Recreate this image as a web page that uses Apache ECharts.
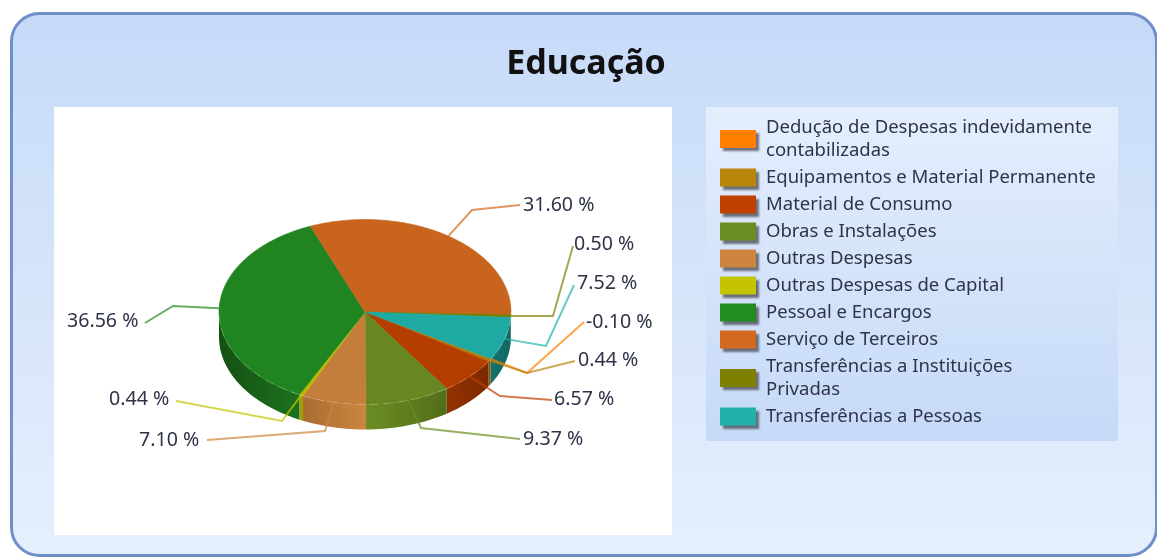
<!DOCTYPE html>
<html>
<head>
<meta charset="utf-8">
<title>Educação</title>
<script src="https://cdn.jsdelivr.net/npm/echarts@6/dist/echarts.min.js"></script>
<style>
  html, body { margin: 0; padding: 0; background: #fff; }
  #main { width: 1157px; height: 558px; }
</style>
</head>
<body>
<div id="main"></div>
<script>
// dados do grafico
const categories = [
    'Dedução de Despesas indevidamente\ncontabilizadas',
    'Equipamentos e Material Permanente',
    'Material de Consumo',
    'Obras e Instalações',
    'Outras Despesas',
    'Outras Despesas de Capital',
    'Pessoal e Encargos',
    'Serviço de Terceiros',
    'Transferências a Instituições\nPrivadas',
    'Transferências a Pessoas'
];
const percents = [-0.10, 0.44, 6.57, 9.37, 7.10, 0.44, 36.56, 31.60, 0.50, 7.52];
const colors = ['#ff8000', '#b8860b', '#c04000', '#6b8e23', '#cd853f', '#c4c400', '#228b22', '#d2691e', '#808000', '#20b2aa'];

// pizza "3D": elipse + parede frontal
const pie = { cx: 365, cy: 312, rx: 146, ry: 92.5, depth: 25, start: 30.4 };
// cotovelo e fim de cada linha guia, mesma ordem das categorias
const leaders = [
    { elbow: [527, 373], end: [584, 322], text: [586, 322] },
    { elbow: [527, 373], end: [575, 361], text: [578, 360] },
    { elbow: [500, 396], end: [552, 400], text: [554, 399] },
    { elbow: [421, 428], end: [520, 439], text: [523, 439] },
    { elbow: [325, 431], end: [207, 440], text: [139, 440] },
    { elbow: [282, 421], end: [176, 401], text: [109, 399] },
    { elbow: [173, 306], end: [145, 323], text: [67, 321] },
    { elbow: [472, 210], end: [520, 205], text: [523, 205] },
    { elbow: [553, 316], end: [573, 246], text: [574, 244] },
    { elbow: [546, 346], end: [574, 285], text: [577, 283] }
];
const textColor = '#2f3348';

const total = percents.reduce((s, v) => s + Math.abs(v), 0);
const ranges = [];
percents.reduce((a, v) => {
    const b = a + Math.abs(v) / total * 360;
    ranges.push([a, b]);
    return b;
}, pie.start);

function rim(deg, dy) {
    const t = deg * Math.PI / 180;
    return [pie.cx + pie.rx * Math.cos(t), pie.cy + pie.ry * Math.sin(t) + (dy || 0)];
}
function arc(a, b, dy) {
    const pts = [];
    const n = Math.max(2, Math.ceil(Math.abs(b - a)));
    for (let i = 0; i <= n; i++) pts.push(rim(a + (b - a) * i / n, dy));
    return pts;
}
function shade(hex, f) {
    const n = parseInt(hex.slice(1), 16);
    return 'rgb(' + [n >> 16, (n >> 8) & 255, n & 255].map(c => Math.round(c * f)).join(',') + ')';
}
// parte visivel da parede: angulos entre 0 e 180 (tambem depois de 360)
function frontRange(r) {
    const a = Math.max(r[0] % 360, 0), b = a + (r[1] - r[0]);
    if (a >= 180) return b > 360 ? [360, Math.min(b, 540)] : null;
    return [a, Math.min(b, 180)];
}

function renderSlice(i) {
    const r = ranges[i], c = colors[i];
    const children = [];
    const front = frontRange(r);
    if (front) {
        const top = arc(front[0], front[1], 0);
        const wall = top.concat(arc(front[1], front[0], pie.depth));
        const x0 = top[0][0], x1 = top[top.length - 1][0];
        const f = x => 1 - 0.42 * Math.abs(x - pie.cx) / pie.rx;
        children.push({
            type: 'polygon',
            shape: { points: wall },
            style: {
                fill: new echarts.graphic.LinearGradient(x0, 0, x1 === x0 ? x0 + 1 : x1, 0, [
                    { offset: 0, color: shade(c, f(x0)) },
                    { offset: 1, color: shade(c, f(x1)) }
                ], true)
            }
        });
    }
    children.push({
        type: 'polygon',
        shape: { points: [[pie.cx, pie.cy]].concat(arc(r[0], r[1], 0)) },
        style: { fill: shade(c, 0.95), stroke: shade(c, 0.95), lineWidth: 0.6 }
    });
    if (front) {
        children.push({
            type: 'polyline',
            shape: { points: arc(front[0], front[1], 0) },
            style: { fill: null, stroke: 'rgba(255,255,255,0.22)', lineWidth: 1, lineDash: [9, 5] }
        });
    }
    return { type: 'group', children: children };
}

function renderLeader(params) {
    const i = params.dataIndex, l = leaders[i];
    const r = ranges[i];
    return {
        type: 'group',
        children: [{
            type: 'polyline',
            shape: { points: [rim((r[0] + r[1]) / 2), l.elbow, l.end] },
            style: { fill: null, stroke: colors[i], opacity: 0.7, lineWidth: 2 }
        }, {
            type: 'text',
            style: {
                x: l.text[0],
                y: l.text[1],
                text: percents[i].toFixed(2) + ' %',
                fill: textColor,
                font: '19.6px "Noto Sans"',
                verticalAlign: 'middle'
            }
        }]
    };
}

const series = categories.map((name, i) => ({
    type: 'custom',
    name: name,
    coordinateSystem: 'none',
    silent: true,
    itemStyle: { color: colors[i] },
    data: [percents[i]],
    renderItem: () => renderSlice(i)
}));
series.push({
    type: 'custom',
    name: 'rotulos',
    coordinateSystem: 'none',
    silent: true,
    z: 5,
    data: percents,
    renderItem: renderLeader
});

const myChart = echarts.init(document.getElementById('main'));
myChart.setOption({
    animation: false,
    title: {
        text: 'Educação',
        left: 586,
        top: 42,
        textAlign: 'center',
        padding: 0,
        textStyle: { fontFamily: 'Noto Sans', fontSize: 34, fontWeight: 'bold', color: '#111', lineHeight: 44 }
    },
    graphic: [{
        type: 'rect',
        z: 0,
        shape: { x: 11.5, y: 13.5, width: 1145, height: 542, r: 28 },
        style: {
            fill: new echarts.graphic.LinearGradient(0, 0, 0, 1, [
                { offset: 0, color: '#c6daf8' },
                { offset: 1, color: '#e6effd' }
            ]),
            stroke: '#6f8fca',
            lineWidth: 3
        }
    }, {
        type: 'rect',
        z: 1,
        shape: { x: 54, y: 107, width: 618, height: 428 },
        style: { fill: '#fff' }
    }, {
        type: 'rect',
        z: 1,
        shape: { x: 706, y: 107, width: 412, height: 334 },
        style: {
            fill: new echarts.graphic.LinearGradient(0, 0, 0, 1, [
                { offset: 0, color: '#e4eefd' },
                { offset: 1, color: '#c5d9f7' }
            ])
        }
    }],
    legend: {
        data: categories,
        orient: 'vertical',
        left: 720,
        top: 116,
        padding: 0,
        icon: 'rect',
        itemWidth: 36,
        itemHeight: 18,
        itemGap: 4,
        selectedMode: false,
        itemStyle: { shadowColor: 'rgba(60,60,70,0.7)', shadowBlur: 2, shadowOffsetX: 3, shadowOffsetY: 3 },
        textStyle: { fontFamily: 'Noto Sans', fontSize: 18.5, lineHeight: 23, color: textColor, padding: [0, 0, 0, 5] }
    },
    series: series
});
</script>
</body>
</html>
